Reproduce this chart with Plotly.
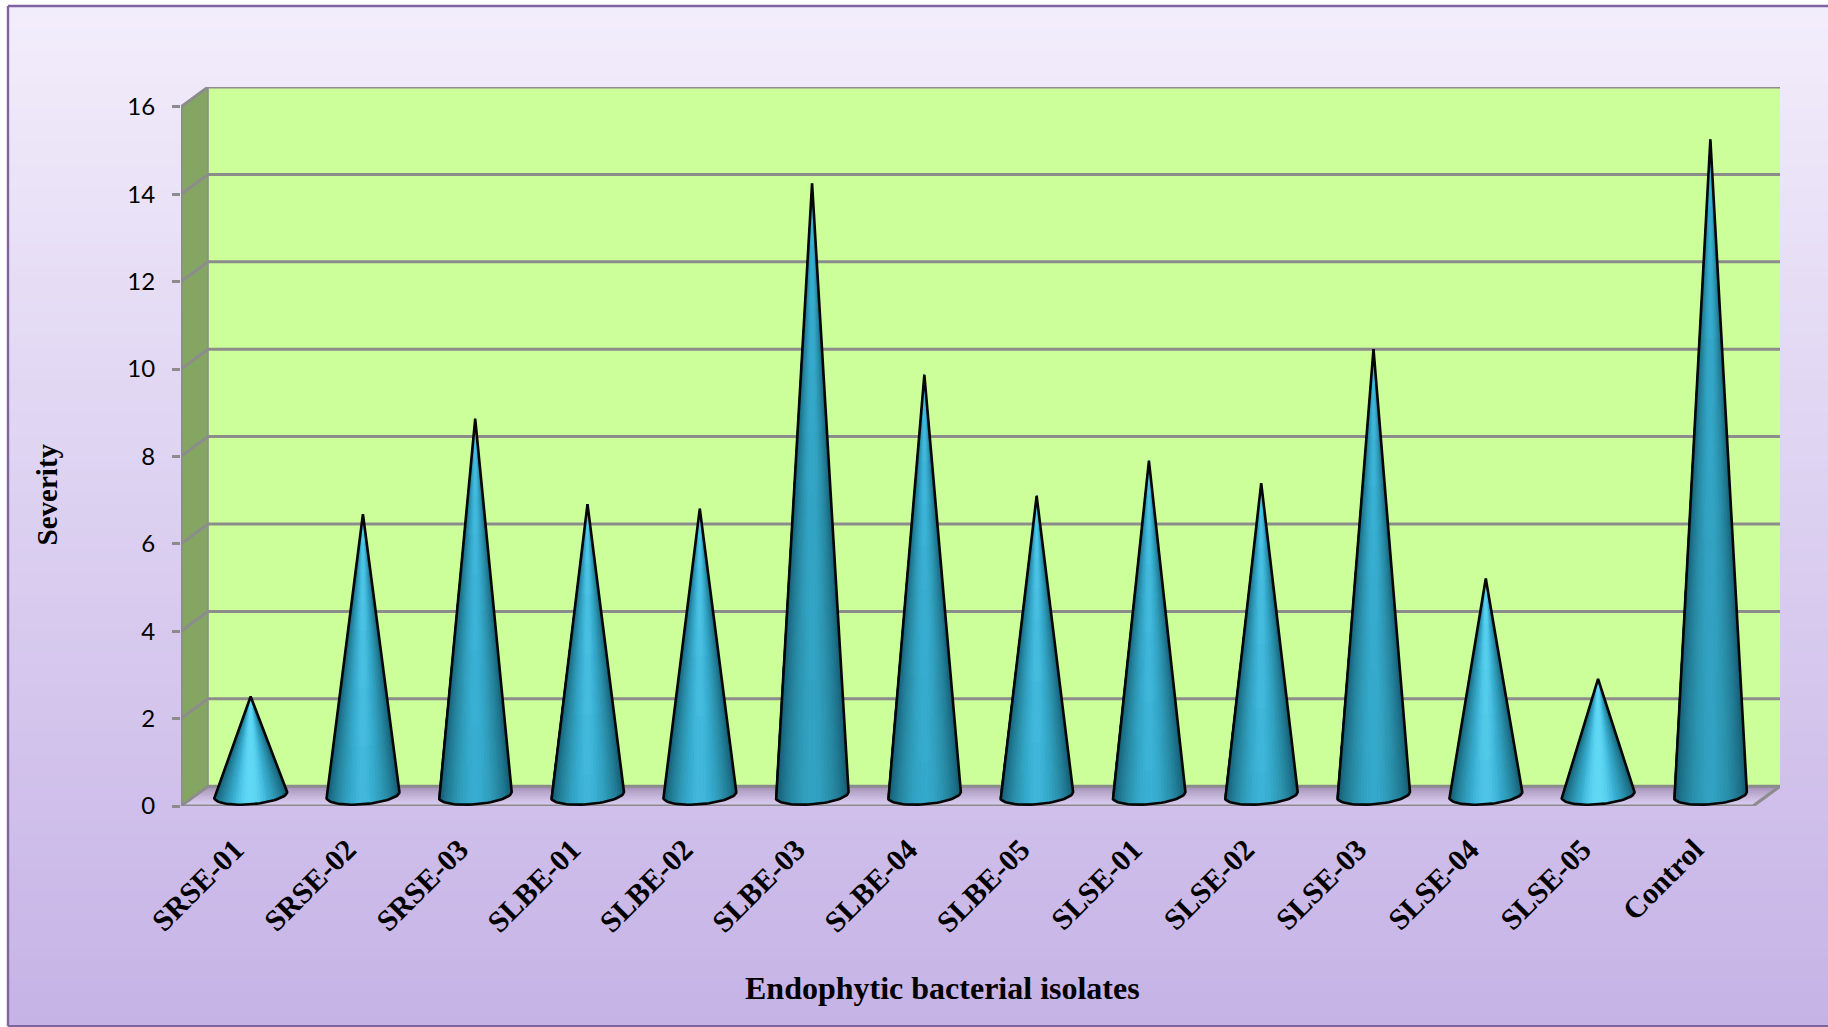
import numpy as np
import plotly.graph_objects as go

categories = ["SRSE-01", "SRSE-02", "SRSE-03", "SLBE-01", "SLBE-02", "SLBE-03", "SLBE-04",
              "SLBE-05", "SLSE-01", "SLSE-02", "SLSE-03", "SLSE-04", "SLSE-05", "Control"]
severity = [2.28, 6.45, 8.63, 6.68, 6.58, 14.02, 9.64, 6.87, 7.67, 7.16, 10.23, 4.98, 2.68, 15.03]
y_ticks = [0, 2, 4, 6, 8, 10, 12, 14, 16]

W, H = 1828, 1027
L, R, T, B = 181.0, 1780.0, 86.5, 805.7
CAT_PX = (1753.0 - 181.0) / 14
UNIT_PX = (805.7 - 106.7) / 16
DX = 27.0 / CAT_PX
DY = 19.8 / UNIT_PX
XR = [-0.5, 13.5 + DX]
YR = [0, 16 + DY]
GRID = "#8c8c8c"

def hexrgb(h):
    return np.array([int(h[i:i + 2], 16) for i in (1, 3, 5)], float)

def mix(a, b, t):
    c = hexrgb(a) * (1 - t) + hexrgb(b) * t
    return "rgb(%d,%d,%d)" % tuple(c.round())

def px(x):
    return (x - L) / (R - L)

def py(y):
    return (B - y) / (B - T)

shapes = []
n = 90
for i in range(n):
    y0 = 5 + (1026 - 5) * i / n
    shapes.append(dict(type="rect", xref="paper", yref="paper", layer="below",
                       x0=px(8), x1=px(W), y0=py(y0), y1=py(1026),
                       fillcolor=mix("#f2edfb", "#c6b3e6", i / (n - 1)), line_width=0))
shapes.append(dict(type="rect", xref="x", yref="y", layer="below", x0=-0.5 + DX, x1=13.5 + DX,
                   y0=DY, y1=16 + DY, fillcolor="#ccff99", line_width=0))
shapes.append(dict(type="path", xref="x", yref="y", layer="below",
                   path=f"M -0.5,0 L {-0.5 + DX},{DY} L {-0.5 + DX},{16 + DY} L -0.5,16 Z",
                   fillcolor="#85a562", line_width=0))
m = 14
for i in range(m):
    f0, f1 = i / m, min((i + 1.3) / m, 1)
    shapes.append(dict(type="path", xref="x", yref="y", layer="below",
                       path=(f"M {-0.5 + DX * f0},{DY * f0} L {13.5 + DX * f0},{DY * f0} "
                             f"L {13.5 + DX * f1},{DY * f1} L {-0.5 + DX * f1},{DY * f1} Z"),
                       fillcolor=mix("#d8caee", "#a28fb4", (i / (m - 1)) ** 1.4), line_width=0))
for (a, b, c, d) in [(8, 5.5, W, 5.5), (8, 5.5, 8, 1026), (8, 1026, W, 1026)]:
    shapes.append(dict(type="line", xref="paper", yref="paper", layer="above",
                       x0=px(a), y0=py(b), x1=px(c), y1=py(d),
                       line=dict(color="#8064a2", width=2.4)))

fig = go.Figure()

for t in y_ticks:
    fig.add_trace(go.Scatter(x=[-0.5, -0.5 + DX, 13.5 + DX], y=[t, t + DY, t + DY], mode="lines",
                             line=dict(color=GRID, width=3), cliponaxis=False,
                             hoverinfo="skip", showlegend=False))
fig.add_trace(go.Scatter(x=[-0.5, -0.5], y=[0, 16], mode="lines", line=dict(color=GRID, width=3.2),
                         cliponaxis=False, hoverinfo="skip", showlegend=False))
fig.add_trace(go.Scatter(x=[-0.5 + DX, -0.5 + DX], y=[DY, 16 + DY], mode="lines",
                         line=dict(color=GRID, width=1.6), cliponaxis=False, hoverinfo="skip", showlegend=False))
fig.add_trace(go.Scatter(x=[-0.5, 13.5, 13.5 + DX], y=[0, 0, DY], mode="lines",
                         line=dict(color=GRID, width=3.2), cliponaxis=False, hoverinfo="skip", showlegend=False))

PAL = 64
def ramp(s):
    stops = [(0, "#10485c"), (0.28, "#1c7089"), (0.55, "#2b92ae"), (0.75, "#38aed2"), (1, "#66e0fc")]
    for (a, ca), (b, cb) in zip(stops, stops[1:]):
        if s <= b:
            return mix(ca, cb, (s - a) / (b - a))
    return stops[-1][1]

bx = [[] for _ in range(PAL)]
by = [[] for _ in range(PAL)]
A = 0.325
Ey, Etilt = 9.5 / UNIT_PX, 2.8 / UNIT_PX
BASE = 11.2 / UNIT_PX

def base_point(cx, u):
    return cx + A * u, BASE + Etilt * u - Ey * np.sqrt(max(0.0, 1 - u * u))

outlines = []
NA, NV = 36, 10
thetas = np.linspace(np.pi, 0, NA + 1)
for i, v in enumerate(severity):
    cx = i + DX / 2
    tip = v + DY / 2
    hpx = v * UNIT_PX
    for j in range(NA):
        u0, u1 = np.cos(thetas[j]), np.cos(thetas[j + 1])
        um = (u0 + u1) / 2
        p0, p1 = base_point(cx, u0), base_point(cx, u1)
        for k in range(NV):
            t0, t1 = k / NV, min((k + 1.15) / NV, 1)
            tm = (k + 0.5) / NV
            dist = hpx * (1 - tm)
            peak = 0.62 + 0.62 * np.exp(-hpx / 190) + 0.16 * np.exp(-dist / 260)
            peak = min(peak, 1.0)
            s = peak * (1 - abs(um) ** 1.7) ** 0.85
            s = max(0.02, s * 0.90 + 0.07)
            idx = int(min(PAL - 1, s * PAL))
            pts = [(p0[0] + (cx - p0[0]) * t0, p0[1] + (tip - p0[1]) * t0),
                   (p1[0] + (cx - p1[0]) * t0, p1[1] + (tip - p1[1]) * t0),
                   (p1[0] + (cx - p1[0]) * t1, p1[1] + (tip - p1[1]) * t1),
                   (p0[0] + (cx - p0[0]) * t1, p0[1] + (tip - p0[1]) * t1)]
            bx[idx] += [q[0] for q in pts] + [pts[0][0], None]
            by[idx] += [q[1] for q in pts] + [pts[0][1], None]
    us = np.cos(thetas)
    arc = [base_point(cx, u) for u in us]
    outlines.append(([cx] + [a[0] for a in arc] + [cx], [tip] + [a[1] for a in arc] + [tip]))

for p in range(PAL):
    if bx[p]:
        c = ramp((p + 0.5) / PAL)
        fig.add_trace(go.Scatter(x=bx[p], y=by[p], mode="lines", fill="toself", fillcolor=c,
                                 line=dict(color=c, width=1.0), hoverinfo="skip", showlegend=False,
                                 cliponaxis=False))
for name, (ox, oy) in zip(categories, outlines):
    fig.add_trace(go.Scatter(x=ox, y=oy, mode="lines", name=name, line=dict(color="#060606", width=2.6),
                             showlegend=False, cliponaxis=False))

fig.update_layout(
    width=W, height=H, autosize=False,
    margin=dict(l=L, r=W - R, t=T, b=H - B, pad=0),
    paper_bgcolor="white", plot_bgcolor="rgba(0,0,0,0)",
    shapes=shapes, showlegend=False,
    xaxis=dict(range=XR, tickmode="array", tickvals=[i - 0.02 for i in range(14)], ticktext=categories,
               tickangle=-45, ticks="outside", ticklen=13, tickcolor="rgba(0,0,0,0)",
               showgrid=False, zeroline=False, showline=False,
               tickfont=dict(family="Liberation Serif", size=30, color="black", weight="bold")),
    yaxis=dict(range=YR, tickmode="array", tickvals=y_ticks, ticks="outside", ticklen=8, tickwidth=2.8,
               tickcolor=GRID, showgrid=False, zeroline=False, showline=False, ticklabelstandoff=12,
               tickfont=dict(family="Lato", size=24, color="black")),
    annotations=[
        dict(text="<b>Severity</b>", xref="paper", yref="paper", x=px(47), y=py(494), showarrow=False,
             textangle=-90, xanchor="center", yanchor="middle",
             font=dict(family="Liberation Serif", size=29, color="black")),
        dict(text="<b>Endophytic bacterial isolates</b>", xref="paper", yref="paper", x=px(942), y=py(988),
             showarrow=False, xanchor="center", yanchor="middle",
             font=dict(family="Liberation Serif", size=32, color="black")),
    ],
)

fig.write_html("out.html", config={"displayModeBar": False},
               post_script="document.body.style.margin='0';document.documentElement.style.overflow='hidden';")
